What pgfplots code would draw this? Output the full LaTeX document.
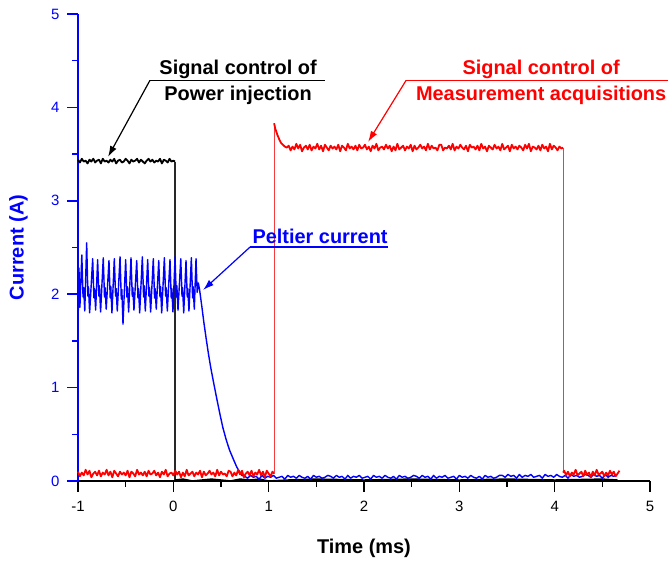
\documentclass[border=0pt]{standalone}
\usepackage{pgfplots}
\pgfplotsset{compat=1.18}
\usetikzlibrary{arrows.meta}
\usepackage{fontspec}
\setmainfont{Liberation Sans}
\definecolor{pblue}{RGB}{0,0,255}
\definecolor{pred}{RGB}{255,0,0}
\definecolor{lred}{RGB}{245,60,60}
\definecolor{dgray}{RGB}{40,40,40}
\begin{document}
\begin{tikzpicture}
\begin{axis}[
 name=ax,
 scale only axis, width=572bp, height=467bp,
 xmin=-1, xmax=5, ymin=0, ymax=5,
 axis x line=bottom, axis y line=left,
 every outer x axis line/.append style={black, line width=2bp, -},
 every outer y axis line/.append style={pblue, line width=2bp, -},
 xtick={-1,0,1,2,3,4,5}, ytick={0,1,2,3,4,5},
 minor x tick num=1, minor y tick num=1,
 tick align=outside,
 major tick length=11bp, minor tick length=6bp,
 tick style={draw=none},
 /pgf/number format/assume math mode=true,
 ticklabel style={font=\fontsize{15}{18}\selectfont},
 xticklabel style={yshift=-6bp},
 yticklabel style={text=pblue, xshift=-4bp},
 xlabel={Time (ms)}, ylabel={Current (A)},
 xlabel style={font=\fontsize{20}{24}\selectfont\bfseries, at={(axis description cs:0.5,-0.1435)}, anchor=center},
 ylabel style={font=\fontsize{20}{24}\selectfont\bfseries, text=pblue, at={(axis description cs:-0.104,0.5)}, anchor=center},
 clip=false,
]
% Signal control of power injection (black)
\addplot[black, line width=1.8bp, line join=round] coordinates {
(-1.00,3.44)(-0.98,3.41)(-0.96,3.45)(-0.94,3.42)(-0.92,3.43)(-0.90,3.40)(-0.88,3.44)(-0.86,3.42)(-0.84,3.45)(-0.82,3.41)
(-0.80,3.43)(-0.78,3.44)(-0.76,3.40)(-0.74,3.45)(-0.72,3.42)(-0.70,3.43)(-0.68,3.41)(-0.66,3.44)(-0.64,3.42)(-0.62,3.45)
(-0.60,3.40)(-0.58,3.43)(-0.56,3.44)(-0.54,3.41)(-0.52,3.42)(-0.50,3.45)(-0.48,3.43)(-0.46,3.40)(-0.44,3.44)(-0.42,3.42)
(-0.40,3.43)(-0.38,3.45)(-0.36,3.41)(-0.34,3.44)(-0.32,3.42)(-0.30,3.40)(-0.28,3.43)(-0.26,3.45)(-0.24,3.42)(-0.22,3.44)
(-0.20,3.41)(-0.18,3.43)(-0.16,3.42)(-0.14,3.45)(-0.12,3.40)(-0.10,3.44)(-0.08,3.43)(-0.06,3.41)(-0.04,3.45)(-0.02,3.42)
(0.00,3.43)(0.018,3.42)
};
\addplot[dgray, line width=1.2bp] coordinates {(0.018,3.42)(0.018,0.01)};
\addplot[black, line width=1.6bp, line join=round] coordinates {
(0.018,0.01)(0.1,0.02)(0.2,0.00)(0.3,0.01)(0.4,0.02)(0.5,0.01)(0.6,0.00)(0.7,0.02)(0.8,0.01)(0.9,0.02)(1.0,0.00)
(1.2,0.01)(1.5,0.02)(2.0,0.01)(2.5,0.02)(3.0,0.01)(3.5,0.02)(4.0,0.01)(4.5,0.02)(4.66,0.01)
};
% Peltier current (blue)
\addplot[pblue, line width=1.4bp, line join=round] coordinates {
(-1.000,1.62)(-0.990,2.28)(-0.980,1.86)
(-0.960,2.42)(-0.947,1.97)(-0.941,2.07)(-0.929,1.82)
(-0.909,2.55)(-0.896,1.98)(-0.890,2.08)(-0.878,1.80)
(-0.846,2.38)(-0.833,1.96)(-0.827,2.06)(-0.815,1.83)
(-0.794,2.37)(-0.781,1.98)(-0.775,2.09)(-0.763,1.81)
(-0.735,2.39)(-0.722,1.97)(-0.716,2.07)(-0.704,1.84)
(-0.675,2.36)(-0.662,1.96)(-0.656,2.08)(-0.644,1.80)
(-0.619,2.38)(-0.606,1.98)(-0.600,2.06)(-0.588,1.82)
(-0.559,2.40)(-0.546,1.95)(-0.540,2.05)(-0.528,1.68)
(-0.500,2.37)(-0.487,1.97)(-0.481,2.08)(-0.469,1.81)
(-0.444,2.39)(-0.431,1.98)(-0.425,2.07)(-0.413,1.83)
(-0.384,2.36)(-0.371,1.96)(-0.365,2.06)(-0.353,1.80)
(-0.325,2.40)(-0.312,1.97)(-0.306,2.09)(-0.294,1.82)
(-0.269,2.37)(-0.256,1.98)(-0.250,2.07)(-0.238,1.81)
(-0.210,2.38)(-0.197,1.96)(-0.191,2.06)(-0.179,1.84)
(-0.153,2.36)(-0.140,1.97)(-0.134,2.08)(-0.122,1.80)
(-0.094,2.39)(-0.081,1.98)(-0.075,2.07)(-0.063,1.82)
(-0.035,2.37)(-0.022,1.96)(-0.016,2.06)(-0.004,1.81)
(0.018,2.40)(0.031,1.97)(0.037,2.09)(0.049,1.83)
(0.078,2.38)(0.091,1.98)(0.097,2.07)(0.109,1.80)
(0.133,2.36)(0.146,1.97)(0.152,2.06)(0.164,1.82)
(0.189,2.39)(0.202,1.96)(0.208,2.08)(0.220,1.84)
(0.238,2.38)(0.250,2.02)(0.262,2.12)(0.275,2.05)
(0.300,1.86)(0.320,1.70)(0.345,1.52)(0.370,1.35)(0.395,1.20)(0.425,1.04)(0.458,0.87)(0.490,0.71)(0.520,0.57)
(0.555,0.44)(0.590,0.33)(0.627,0.24)(0.665,0.15)(0.700,0.09)(0.720,0.06)
(0.75,0.05)(0.78,0.03)(0.81,0.06)(0.84,0.04)(0.87,0.05)(0.90,0.02)(0.93,0.06)(0.96,0.03)(0.99,0.05)(1.02,0.04)
(1.05,0.06)(1.08,0.03)(1.11,0.04)(1.14,0.05)(1.17,0.02)(1.20,0.06)(1.23,0.04)(1.26,0.05)(1.29,0.03)(1.32,0.06)
(1.35,0.04)(1.38,0.03)(1.41,0.05)(1.44,0.02)(1.47,0.06)(1.50,0.04)(1.53,0.05)(1.56,0.03)(1.59,0.04)(1.62,0.06)
(1.65,0.05)(1.68,0.03)(1.71,0.06)(1.74,0.04)(1.77,0.05)(1.80,0.02)(1.83,0.06)(1.86,0.03)(1.89,0.05)(1.92,0.04)
(1.95,0.06)(1.98,0.03)(2.01,0.04)(2.04,0.05)(2.07,0.02)(2.10,0.06)(2.13,0.04)(2.16,0.05)(2.19,0.03)(2.22,0.06)
(2.25,0.04)(2.28,0.03)(2.31,0.05)(2.34,0.02)(2.37,0.06)(2.40,0.04)(2.43,0.05)(2.46,0.03)(2.49,0.04)(2.52,0.06)
(2.55,0.05)(2.58,0.03)(2.61,0.06)(2.64,0.04)(2.67,0.05)(2.70,0.02)(2.73,0.06)(2.76,0.03)(2.79,0.05)(2.82,0.04)
(2.85,0.06)(2.88,0.03)(2.91,0.04)(2.94,0.05)(2.97,0.02)(3.00,0.06)(3.03,0.04)(3.06,0.05)(3.09,0.03)(3.12,0.06)
(3.15,0.04)(3.18,0.03)(3.21,0.05)(3.24,0.02)(3.27,0.06)(3.30,0.04)(3.33,0.05)(3.36,0.03)(3.39,0.04)(3.42,0.06)
(3.45,0.06)(3.48,0.04)(3.51,0.07)(3.54,0.05)(3.57,0.06)(3.60,0.03)(3.63,0.07)(3.66,0.04)(3.69,0.06)(3.72,0.05)
(3.75,0.07)(3.78,0.04)(3.81,0.05)(3.84,0.06)(3.87,0.03)(3.90,0.07)(3.93,0.05)(3.96,0.06)(3.99,0.04)(4.02,0.07)
(4.05,0.05)(4.08,0.04)(4.11,0.06)(4.14,0.03)(4.17,0.07)(4.20,0.05)(4.23,0.06)(4.26,0.04)(4.29,0.05)(4.32,0.07)
(4.35,0.06)(4.38,0.04)(4.41,0.07)(4.44,0.05)(4.47,0.06)(4.50,0.03)(4.53,0.07)(4.56,0.04)(4.59,0.06)(4.62,0.05)(4.65,0.07)
};
% Signal control of measurement acquisitions (red)
\addplot[pred, line width=1.8bp, line join=round] coordinates {
(-1.00,0.10)(-0.98,0.05)(-0.96,0.09)(-0.94,0.06)(-0.92,0.12)(-0.90,0.07)(-0.88,0.11)(-0.86,0.04)(-0.84,0.08)(-0.82,0.10)
(-0.80,0.06)(-0.78,0.11)(-0.76,0.05)(-0.74,0.09)(-0.72,0.07)(-0.70,0.12)(-0.68,0.06)(-0.66,0.10)(-0.64,0.04)(-0.62,0.11)
(-0.60,0.08)(-0.58,0.05)(-0.56,0.10)(-0.54,0.07)(-0.52,0.09)(-0.50,0.06)(-0.48,0.11)(-0.46,0.04)(-0.44,0.10)(-0.42,0.08)
(-0.40,0.05)(-0.38,0.12)(-0.36,0.07)(-0.34,0.09)(-0.32,0.06)(-0.30,0.10)(-0.28,0.05)(-0.26,0.11)(-0.24,0.07)(-0.22,0.08)
(-0.20,0.11)(-0.18,0.06)(-0.16,0.09)(-0.14,0.04)(-0.12,0.10)(-0.10,0.07)(-0.08,0.12)(-0.06,0.05)(-0.04,0.08)(-0.02,0.09)
(0.00,0.06)(0.02,0.11)(0.04,0.07)(0.06,0.10)(0.08,0.04)(0.10,0.09)(0.12,0.05)(0.14,0.12)(0.16,0.06)(0.18,0.08)
(0.20,0.10)(0.22,0.05)(0.24,0.09)(0.26,0.07)(0.28,0.11)(0.30,0.04)(0.32,0.10)(0.34,0.06)(0.36,0.08)(0.38,0.11)
(0.40,0.07)(0.42,0.09)(0.44,0.05)(0.46,0.12)(0.48,0.06)(0.50,0.10)(0.52,0.07)(0.54,0.08)(0.56,0.05)(0.58,0.11)
(0.60,0.10)(0.62,0.05)(0.64,0.09)(0.66,0.06)(0.68,0.12)(0.70,0.07)(0.72,0.11)(0.74,0.04)(0.76,0.08)(0.78,0.10)
(0.80,0.06)(0.82,0.11)(0.84,0.05)(0.86,0.09)(0.88,0.07)(0.90,0.12)(0.92,0.06)(0.94,0.10)(0.96,0.04)(0.98,0.11)
(1.00,0.08)(1.02,0.05)(1.04,0.10)(1.057,0.08)
};
\addplot[lred, line width=1bp] coordinates {(1.057,0.08)(1.057,3.83)};
\addplot[pred, line width=1.8bp, line join=round] coordinates {
(1.057,3.83)(1.07,3.77)(1.09,3.71)(1.11,3.66)(1.13,3.62)(1.15,3.60)(1.17,3.58)(1.19,3.57)
(1.21,3.59)(1.23,3.54)(1.25,3.58)(1.27,3.55)(1.29,3.61)(1.31,3.56)(1.33,3.60)(1.35,3.53)(1.37,3.57)(1.39,3.59)
(1.41,3.55)(1.43,3.60)(1.45,3.54)(1.47,3.58)(1.49,3.56)(1.51,3.61)(1.53,3.55)(1.55,3.59)(1.57,3.53)(1.59,3.60)
(1.61,3.57)(1.63,3.54)(1.65,3.59)(1.67,3.56)(1.69,3.58)(1.71,3.55)(1.73,3.60)(1.75,3.53)(1.77,3.59)(1.79,3.57)
(1.81,3.54)(1.83,3.61)(1.85,3.56)(1.87,3.58)(1.89,3.55)(1.91,3.59)(1.93,3.54)(1.95,3.60)(1.97,3.56)(1.99,3.57)
(2.01,3.60)(2.03,3.55)(2.05,3.58)(2.07,3.53)(2.09,3.59)(2.11,3.56)(2.13,3.61)(2.15,3.54)(2.17,3.57)(2.19,3.58)
(2.21,3.55)(2.23,3.60)(2.25,3.56)(2.27,3.59)(2.29,3.53)(2.31,3.58)(2.33,3.54)(2.35,3.61)(2.37,3.55)(2.39,3.57)
(2.41,3.59)(2.43,3.54)(2.45,3.58)(2.47,3.56)(2.49,3.60)(2.51,3.53)(2.53,3.59)(2.55,3.55)(2.57,3.57)(2.59,3.60)
(2.61,3.56)(2.63,3.58)(2.65,3.54)(2.67,3.61)(2.69,3.55)(2.71,3.59)(2.73,3.56)(2.75,3.57)(2.77,3.54)(2.79,3.60)
(2.81,3.60)(2.83,3.54)(2.85,3.57)(2.87,3.56)(2.89,3.59)(2.91,3.55)(2.93,3.61)(2.95,3.54)(2.97,3.58)(2.99,3.56)
(3.01,3.60)(3.03,3.57)(3.05,3.55)(3.07,3.59)(3.09,3.53)(3.11,3.60)(3.13,3.57)(3.15,3.58)(3.17,3.55)(3.19,3.59)
(3.21,3.54)(3.23,3.61)(3.25,3.56)(3.27,3.58)(3.29,3.53)(3.31,3.59)(3.33,3.57)(3.35,3.55)(3.37,3.60)(3.39,3.56)
(3.41,3.58)(3.43,3.54)(3.45,3.61)(3.47,3.55)(3.49,3.57)(3.51,3.59)(3.53,3.53)(3.55,3.60)(3.57,3.56)(3.59,3.58)
(3.61,3.55)(3.63,3.59)(3.65,3.57)(3.67,3.54)(3.69,3.60)(3.71,3.56)(3.73,3.61)(3.75,3.53)(3.77,3.58)(3.79,3.57)
(3.81,3.55)(3.83,3.59)(3.85,3.54)(3.87,3.60)(3.89,3.56)(3.91,3.58)(3.93,3.53)(3.95,3.61)(3.97,3.55)(3.99,3.59)
(4.01,3.57)(4.03,3.54)(4.05,3.58)(4.07,3.56)(4.089,3.57)
};
\addplot[lred, line width=1bp] coordinates {(4.089,3.57)(4.089,0.09)};
\addplot[pred, line width=1.8bp, line join=round] coordinates {
(4.089,0.09)(4.10,0.11)(4.12,0.06)(4.14,0.10)(4.16,0.05)(4.18,0.09)(4.20,0.07)(4.22,0.12)(4.24,0.06)(4.26,0.08)(4.28,0.10)
(4.30,0.05)(4.32,0.11)(4.34,0.07)(4.36,0.09)(4.38,0.04)(4.40,0.10)(4.42,0.06)(4.44,0.12)(4.46,0.07)(4.48,0.08)
(4.50,0.10)(4.52,0.05)(4.54,0.09)(4.56,0.06)(4.58,0.11)(4.60,0.07)(4.62,0.10)(4.64,0.05)(4.66,0.08)(4.68,0.11)
};
% tick marks (outside)
\pgfplotsinvokeforeach{-1,0,1,2,3,4,5}{\draw[black, line width=1.5bp] (axis cs:#1,0) -- (axis cs:#1,-0.1178);}
\pgfplotsinvokeforeach{-0.5,0.5,1.5,2.5,3.5,4.5}{\draw[black, line width=1.5bp] (axis cs:#1,0) -- (axis cs:#1,-0.0642);}
\pgfplotsinvokeforeach{0,1,2,3,4,5}{\draw[pblue, line width=1.5bp] (axis cs:-1,#1) -- (axis cs:-1.1154,#1);}
\pgfplotsinvokeforeach{0.5,1.5,2.5,3.5,4.5}{\draw[pblue, line width=1.5bp] (axis cs:-1,#1) -- (axis cs:-1.0629,#1);}
% annotations
\draw[black, line width=1.2bp] (axis cs:-0.245,4.29) -- (axis cs:1.592,4.29);
\draw[black, line width=1.2bp, -{Latex[length=11bp,width=7bp]}] (axis cs:-0.245,4.29) -- (axis cs:-0.685,3.47);
\node[font=\fontsize{20}{24}\selectfont\bfseries, anchor=base, text=black] at (axis cs:0.679,4.347) {Signal control of};
\node[font=\fontsize{20}{24}\selectfont\bfseries, anchor=base, text=black] at (axis cs:0.679,4.069) {Power injection};
\draw[pred, line width=1.2bp] (axis cs:2.442,4.29) -- (axis cs:5.19,4.29);
\draw[pred, line width=1.2bp, -{Latex[length=11bp,width=7bp]}] (axis cs:2.442,4.29) -- (axis cs:2.043,3.63);
\node[font=\fontsize{20}{24}\selectfont\bfseries, anchor=base, text=pred] at (axis cs:3.858,4.347) {Signal control of};
\node[font=\fontsize{20}{24}\selectfont\bfseries, anchor=base, text=pred] at (axis cs:3.858,4.069) {Measurement acquisitions};
\draw[pblue, line width=1.2bp] (axis cs:0.805,2.505) -- (axis cs:2.253,2.505);
\draw[pblue, line width=1.2bp, -{Latex[length=11bp,width=7bp]}] (axis cs:0.805,2.505) -- (axis cs:0.312,2.045);
\node[font=\fontsize{20}{24}\selectfont\bfseries, anchor=base, text=pblue] at (axis cs:1.539,2.548) {Peltier current};
\end{axis}
\pgfresetboundingbox
\path[use as bounding box] ([shift={(-78bp,-82bp)}]ax.south west) rectangle ([shift={(22bp,14bp)}]ax.north east);
\end{tikzpicture}
\end{document}
